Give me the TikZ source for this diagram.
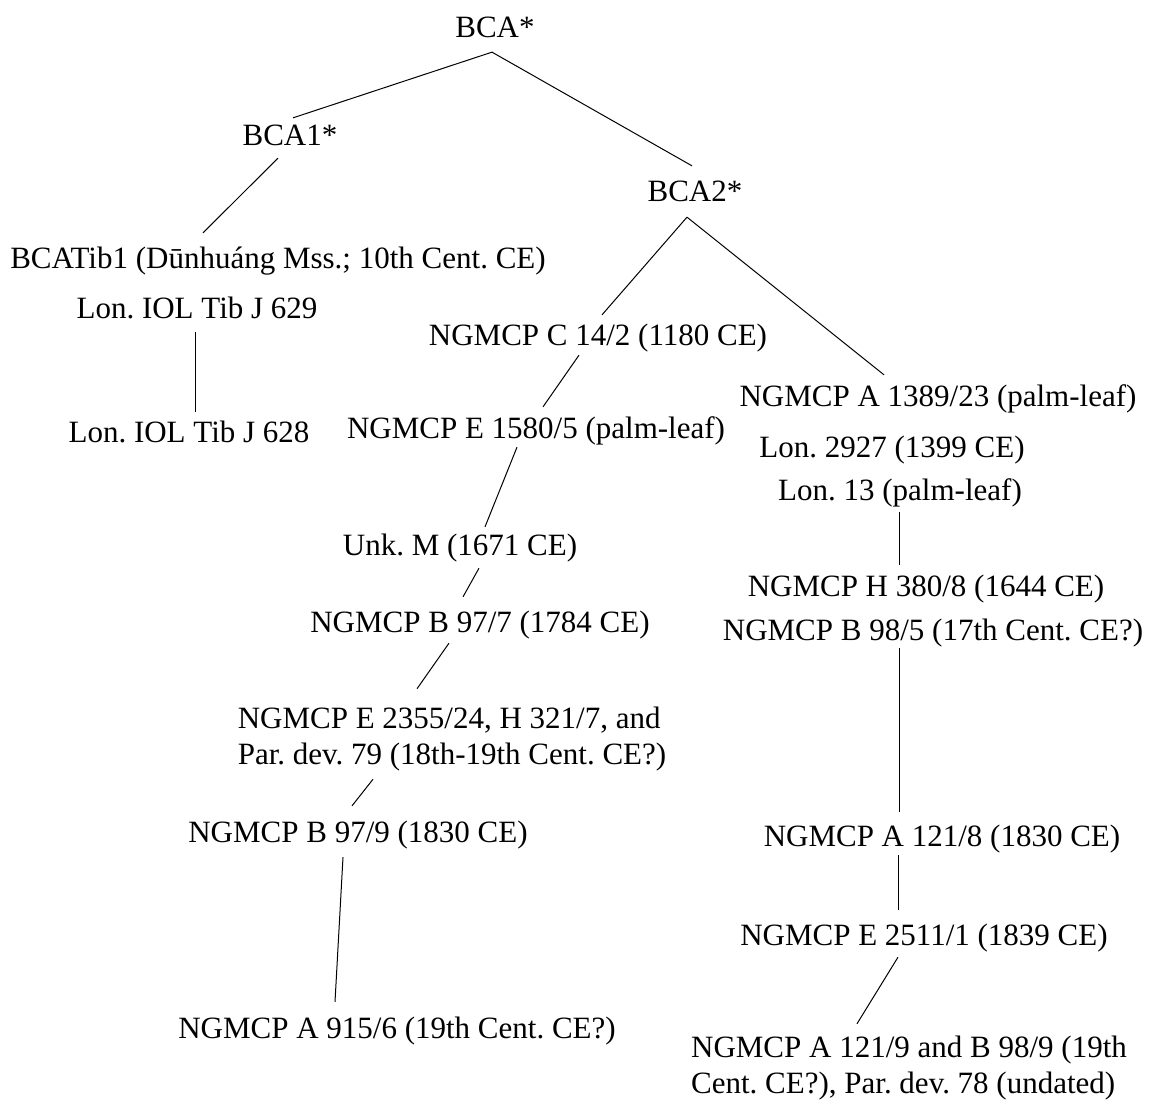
\documentclass[tikz,border=0pt]{standalone}
\usepackage{fontspec}
\setmainfont{Liberation Serif}
\usepackage{tikz}
\usetikzlibrary{shapes,arrows}
\frenchspacing

\begin{document}
\begin{tikzpicture}
[
x=1pt, y=-1pt,
every node/.style={font=\fontsize{31}{36}\selectfont, inner sep=0pt},
every edge/.style={draw=black, line width=1pt}
]
\tikzset{ms/.style={text height=24.7pt, text depth=3.2pt}}
\tikzset{msblock/.style={align=left}}
\useasboundingbox (0,0) rectangle (1155,1102);

% hyparchetypes
\node[ms] (bca) at (495,27) {BCA*};
\node[ms] (bcaone) at (290,135) {BCA1*};
\node[ms] (bcatwo) at (695,191) {BCA2*};

% left branch
\node[ms] (tib) at (278,258) {BCATib1 (Dūnhuáng Mss.; 10th Cent. CE)};
\node[ms] (iolA) at (197,308) {Lon. IOL Tib J 629};
\node[ms] (iolB) at (189,432) {Lon. IOL Tib J 628};

% middle branch
\node[ms] (cfour) at (598,335) {NGMCP C 14/2 (1180 CE)};
\node[ms] (efive) at (536,428) {NGMCP E 1580/5 (palm-leaf)};
\node[ms] (unkm) at (460,545) {Unk. M (1671 CE)};
\node[ms] (bseven) at (480,622) {NGMCP B 97/7 (1784 CE)};
\node[msblock] (etwo) at (452,739) {NGMCP E 2355/24, H 321/7, and\\Par. dev. 79 (18th-19th Cent. CE?)};
\node[ms] (bnine) at (358,832) {NGMCP B 97/9 (1830 CE)};
\node[ms] (anine) at (397,1028) {NGMCP A 915/6 (19th Cent. CE?)};

% right branch
\node[ms] (athree) at (938,396) {NGMCP A 1389/23 (palm-leaf)};
\node[ms] (lontwo) at (892,447) {Lon. 2927 (1399 CE)};
\node[ms] (lonthirteen) at (900,490) {Lon. 13 (palm-leaf)};
\node[ms] (hthree) at (926,586) {NGMCP H 380/8 (1644 CE)};
\node[ms] (bfive) at (933,630) {NGMCP B 98/5 (17th Cent. CE?)};
\node[ms] (aeight) at (942,836) {NGMCP A 121/8 (1830 CE)};
\node[ms] (eone) at (924,935) {NGMCP E 2511/1 (1839 CE)};
\node[msblock] (alast) at (909,1068) {NGMCP A 121/9 and B 98/9 (19th\\Cent. CE?), Par. dev. 78 (undated)};

\path
([xshift=-3pt, yshift=-11pt] bca.south)	edge	([xshift=3pt, yshift=3pt] bcaone.north)
([xshift=-3pt, yshift=-11pt] bca.south)	edge	([xshift=-3pt, yshift=11pt] bcatwo.north)
([xshift=-12pt, yshift=-9pt] bcaone.south)	edge	([xshift=-75pt, yshift=11pt] tib.north)
([xshift=-2pt, yshift=-10pt] iolA.south)	edge	([xshift=6pt, yshift=6pt] iolB.north)
([xshift=-8pt, yshift=-12pt] bcatwo.south)	edge	([xshift=4pt, yshift=6pt] cfour.north)
([xshift=-8pt, yshift=-12pt] bcatwo.south)	edge	([xshift=-54pt, yshift=7pt] athree.north)
([xshift=-19pt, yshift=-6pt] cfour.south)	edge	([xshift=7pt, yshift=7pt] efive.north)
([xshift=-19pt, yshift=-5pt] efive.south)	edge	([xshift=25pt, yshift=4pt] unkm.north)
([xshift=19pt, yshift=-9pt] unkm.south)	edge	([xshift=-17pt, yshift=11pt] bseven.north)
([xshift=-31pt, yshift=-7pt] bseven.south)	edge	([xshift=-35pt, yshift=18pt] etwo.north)
([xshift=-79pt, yshift=-8pt] etwo.south)	edge	([xshift=-6pt, yshift=12pt] bnine.north)
([xshift=-15pt, yshift=-11pt] bnine.south)	edge	([xshift=-62pt, yshift=12pt] anine.north);

\path
([xshift=-1pt, yshift=-8pt] lonthirteen.south)	edge	([xshift=-27pt, yshift=7pt] hthree.north)
([xshift=-34pt, yshift=-4pt] bfive.south)	edge	([xshift=-43pt, yshift=10pt] aeight.north)
([xshift=-44pt, yshift=-5pt] aeight.south)	edge	([xshift=-26pt, yshift=11pt] eone.north)
([xshift=-26pt, yshift=-8pt] eone.south)	edge	([xshift=-52pt, yshift=12pt] alast.north);
\end{tikzpicture}
\end{document}
